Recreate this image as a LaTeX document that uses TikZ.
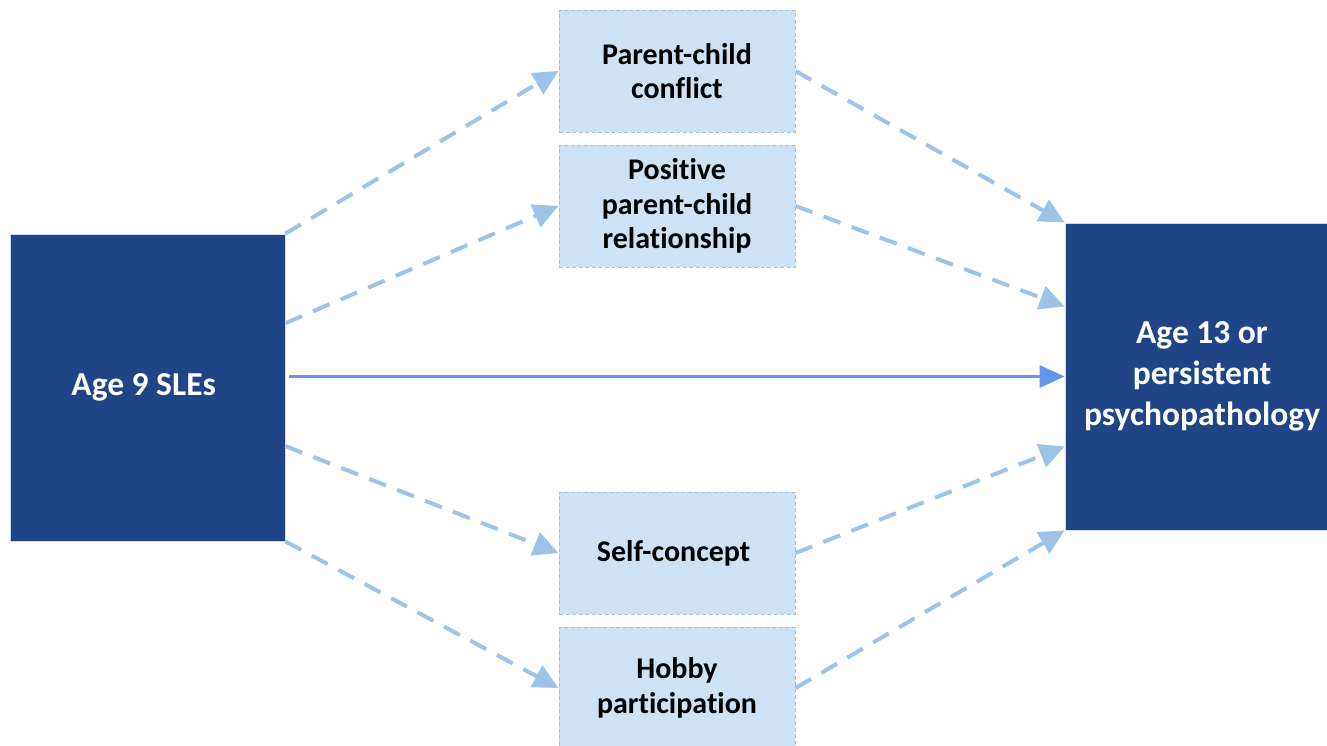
\documentclass[tikz,border=0pt]{standalone}
\usepackage{fontspec}
\setmainfont{Carlito}[Ligatures=NoCommon]
\usetikzlibrary{arrows.meta}
\definecolor{darkbox}{RGB}{31,69,134}
\definecolor{lightbox}{RGB}{207,226,243}
\definecolor{lightline}{RGB}{157,195,230}
\definecolor{solidline}{RGB}{100,149,237}

\begin{document}
\begin{tikzpicture}[x=1pt, y=-1pt,
    mainbox/.style={rectangle, draw=lightline!60!white, line width=0.8pt, fill=darkbox, text=white, align=center, font=\fontsize{33.5}{41}\selectfont\bfseries},
    medbox/.style={rectangle, draw=lightline, dash pattern=on 4pt off 2.5pt, line width=1pt, fill=lightbox, minimum width=236pt, minimum height=122pt, align=center, font=\fontsize{30}{34.5}\selectfont\bfseries},
    link/.style={-{Triangle[length=25pt,width=24pt]}, dash pattern=on 18pt off 12pt, line width=4pt, draw=lightline},
  ]
    \useasboundingbox (0,0) rectangle (1327,745);
    %boxes
    \node[mainbox, minimum width=275pt, minimum height=307pt] at (147.5, 387.5) (sle){ Age 9 SLEs };
    \node[mainbox, minimum width=274pt, minimum height=307pt] at (1202, 376.5) (out){ Age 13 or\\persistent\\psychopathology };
    \node[medbox] at (677, 71) (conflict){ Parent-child\\conflict };
    \node[medbox] at (677, 206) (positive){ Positive\\parent-child\\relationship };
    \node[medbox] at (677, 553) (self){ Self-concept };
    \node[medbox] at (677, 688) (hobby){ Hobby\\participation };
    %paths
    \draw[link] (sle.north east) -- (conflict.west);
    \draw[link] (sle.25) -- (positive.west);
    \draw[link] (sle.-23) -- (self.west);
    \draw[link] (sle.south east) -- (hobby.west);
    \draw[link] (conflict.east) -- (out.north west);
    \draw[link] (positive.east) -- (out.153);
    \draw[link] (self.east) -- (out.207);
    \draw[link] (hobby.east) -- (out.south west);
    \draw[-{Triangle[length=25pt,width=22pt]}, line width=3pt, solidline] ([xshift=4pt]sle.east |- out.west) -- (out.west);
  \end{tikzpicture}
\end{document}
